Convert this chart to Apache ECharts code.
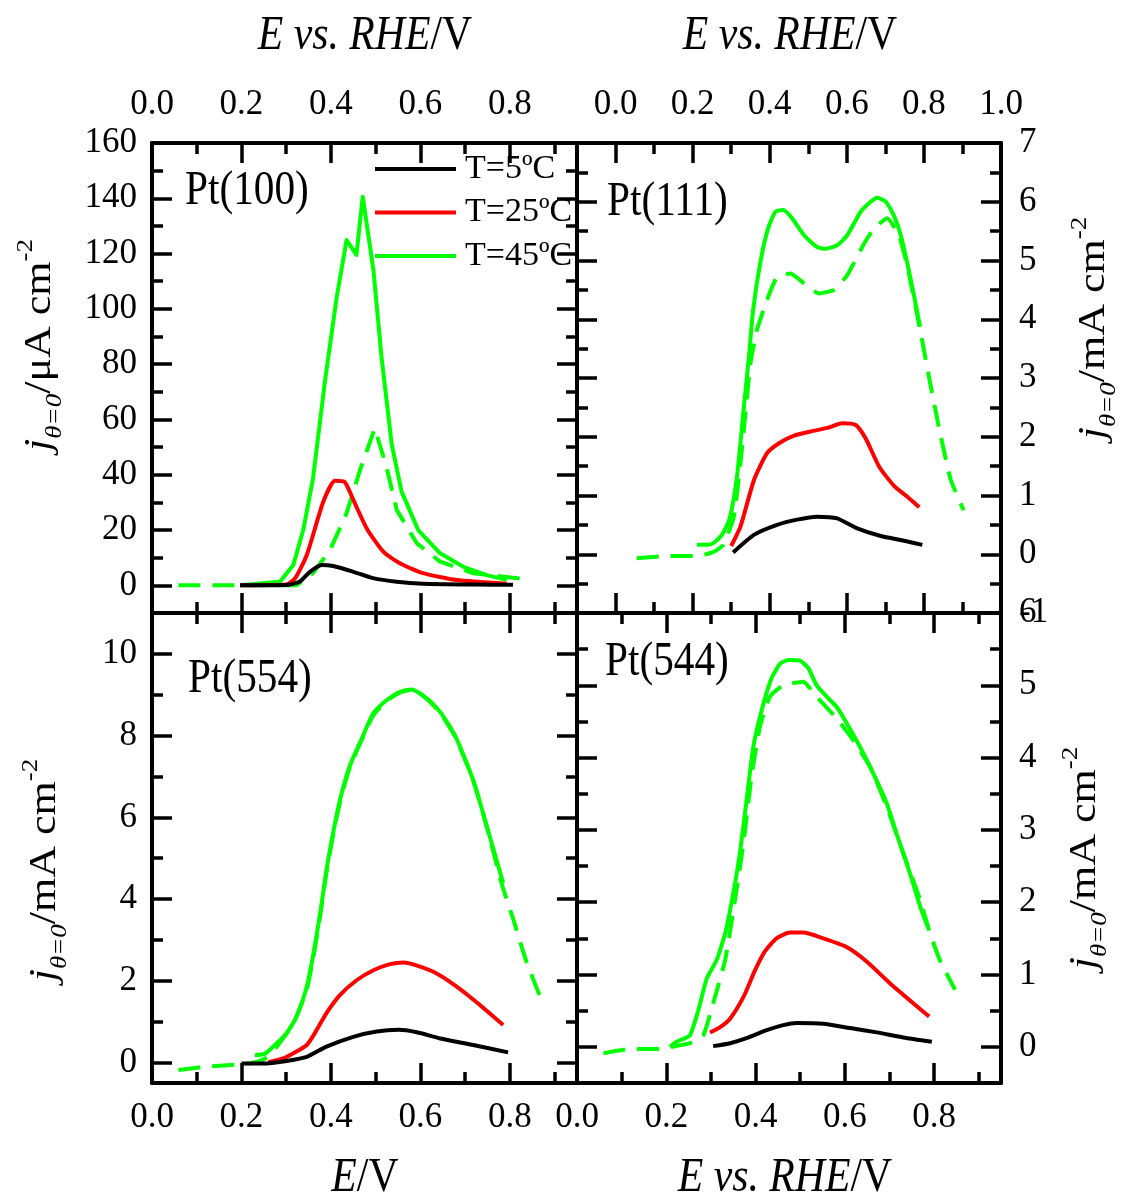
<!DOCTYPE html>
<html>
<head>
<meta charset="utf-8">
<script src="https://cdn.jsdelivr.net/npm/echarts@6/dist/echarts.min.js"></script>
<style>
html,body{margin:0;padding:0;background:#fff;}
#chart{width:1131px;height:1198px;}
</style>
</head>
<body>
<div id="chart"></div>
<script>
// ---------------- DATA (E / V, j) ----------------
// Pt(100)  (j in µA cm^-2)
const pt100_T5  = [[0.197,0],[0.25,0],[0.30,0.1],[0.33,1.3],[0.353,4.9],[0.379,7.4],[0.405,7.0],[0.45,4.9],[0.494,2.6],[0.547,1.3],[0.606,0.6],[0.72,0.3],[0.807,0.2]];
const pt100_T25 = [[0.197,0],[0.25,0.1],[0.30,0.3],[0.32,2.6],[0.346,11],[0.383,30.3],[0.409,37.8],[0.431,37.3],[0.45,30.9],[0.48,20.6],[0.517,12.2],[0.554,8.0],[0.606,4.4],[0.681,1.9],[0.793,0.6]];
const pt100_T45 = [[0.197,0],[0.286,1.3],[0.316,7.4],[0.338,20],[0.36,38.7],[0.387,74.3],[0.413,104.4],[0.435,124.9],[0.457,119.5],[0.471,140.6],[0.495,114],[0.513,82.7],[0.536,50.8],[0.558,33.9],[0.595,20],[0.644,11.6],[0.696,6.7],[0.748,3.7],[0.793,2]];
const pt100_T45b = [[0.059,0],[0.20,0],[0.323,0],[0.36,4.4],[0.398,12.8],[0.435,26.1],[0.465,41.7],[0.498,56.8],[0.524,42.9],[0.547,27.3],[0.592,15.2],[0.644,8.6],[0.718,4.4],[0.838,2.2]];

// Pt(111)  (j in mA cm^-2)
const pt111_T5  = [[0.305,0.03],[0.359,0.33],[0.419,0.50],[0.471,0.59],[0.523,0.64],[0.575,0.61],[0.627,0.44],[0.688,0.31],[0.749,0.23],[0.796,0.16]];
const pt111_T25 = [[0.30,0.14],[0.324,0.47],[0.359,1.26],[0.393,1.72],[0.424,1.89],[0.463,2.02],[0.506,2.09],[0.549,2.15],[0.588,2.23],[0.623,2.20],[0.649,1.97],[0.684,1.49],[0.723,1.16],[0.757,0.98],[0.788,0.80]];
const pt111_T45 = [[0.211,0.16],[0.237,0.16],[0.254,0.19],[0.276,0.33],[0.296,0.61],[0.315,1.32],[0.333,2.51],[0.346,3.36],[0.357,4.16],[0.376,4.98],[0.396,5.55],[0.415,5.83],[0.435,5.86],[0.458,5.72],[0.489,5.43],[0.523,5.23],[0.545,5.20],[0.575,5.26],[0.601,5.43],[0.636,5.83],[0.662,6.0],[0.679,6.07],[0.701,6.0],[0.723,5.75],[0.74,5.43],[0.757,4.95],[0.775,4.38],[0.79,3.87]];
const pt111_T45b = [[0.055,-0.07],[0.133,-0.03],[0.211,-0.03],[0.255,0.04],[0.28,0.16],[0.307,0.64],[0.324,1.55],[0.337,2.4],[0.35,3.25],[0.367,3.82],[0.393,4.33],[0.419,4.72],[0.454,4.78],[0.489,4.61],[0.528,4.44],[0.567,4.5],[0.601,4.75],[0.645,5.29],[0.671,5.55],[0.705,5.72],[0.736,5.41],[0.757,4.9],[0.792,3.76],[0.818,2.85],[0.844,2.0],[0.87,1.26],[0.903,0.75]];

// Pt(554)  (j in mA cm^-2)
const pt554_T5  = [[0.20,-0.02],[0.256,-0.02],[0.301,0.04],[0.346,0.14],[0.39,0.39],[0.45,0.63],[0.502,0.76],[0.551,0.80],[0.592,0.74],[0.644,0.59],[0.718,0.43],[0.796,0.25]];
const pt554_T25 = [[0.26,0.01],[0.293,0.10],[0.323,0.27],[0.346,0.43],[0.364,0.72],[0.39,1.21],[0.42,1.65],[0.458,2.02],[0.495,2.26],[0.532,2.41],[0.562,2.45],[0.582,2.41],[0.629,2.22],[0.681,1.86],[0.733,1.41],[0.785,0.92]];
const pt554_T45 = [[0.23,0.18],[0.253,0.22],[0.271,0.39],[0.301,0.72],[0.323,1.12],[0.346,1.86],[0.361,2.67],[0.376,3.65],[0.39,4.71],[0.409,5.85],[0.424,6.59],[0.443,7.28],[0.469,7.93],[0.495,8.55],[0.525,8.87],[0.554,9.07],[0.58,9.13],[0.614,8.91],[0.644,8.58],[0.677,8.01],[0.718,6.91],[0.755,5.53],[0.785,4.39]];
const pt554_T45b = [[0.059,-0.18],[0.122,-0.10],[0.197,-0.04],[0.223,-0.01],[0.253,0.1],[0.279,0.39],[0.316,0.96],[0.346,1.8],[0.361,2.6],[0.376,3.6],[0.39,4.65],[0.409,5.8],[0.424,6.55],[0.443,7.25],[0.469,7.9],[0.495,8.5],[0.525,8.85],[0.554,9.05],[0.585,9.12],[0.614,8.9],[0.644,8.55],[0.677,7.98],[0.718,6.9],[0.755,5.5],[0.781,4.4],[0.808,3.49],[0.837,2.47],[0.875,1.41]];

// Pt(544)  (j in mA cm^-2)
const pt544_T5  = [[0.305,0.01],[0.343,0.05],[0.38,0.12],[0.425,0.23],[0.462,0.30],[0.492,0.33],[0.552,0.32],[0.612,0.26],[0.672,0.20],[0.731,0.13],[0.795,0.07]];
const pt544_T25 = [[0.298,0.20],[0.32,0.27],[0.343,0.39],[0.373,0.69],[0.399,1.06],[0.421,1.32],[0.447,1.50],[0.477,1.58],[0.507,1.58],[0.552,1.50],[0.604,1.38],[0.649,1.18],[0.701,0.88],[0.754,0.60],[0.789,0.42]];
const pt544_T45 = [[0.208,0.0],[0.223,0.07],[0.253,0.16],[0.272,0.51],[0.291,0.95],[0.313,1.2],[0.332,1.57],[0.35,2.12],[0.365,2.68],[0.38,3.41],[0.395,4.15],[0.414,4.66],[0.436,5.10],[0.455,5.30],[0.473,5.35],[0.5,5.34],[0.518,5.24],[0.537,5.0],[0.56,4.84],[0.582,4.70],[0.604,4.48],[0.634,4.15],[0.664,3.78],[0.694,3.37],[0.716,2.95],[0.746,2.40],[0.769,1.94],[0.787,1.64]];
const pt544_T45b = [[0.059,-0.09],[0.119,-0.03],[0.186,-0.03],[0.212,0.0],[0.253,0.05],[0.283,0.16],[0.305,0.60],[0.332,1.2],[0.354,2.03],[0.373,2.82],[0.391,3.74],[0.41,4.43],[0.432,4.84],[0.462,5.0],[0.507,5.05],[0.537,4.84],[0.582,4.54],[0.619,4.24],[0.657,3.87],[0.694,3.32],[0.731,2.68],[0.769,2.03],[0.791,1.57],[0.813,1.2],[0.847,0.79]];

// ---------------- TICKS ----------------
const X_TICKS      = [0, 0.2, 0.4, 0.6, 0.8];
const X_MINOR      = [0.1, 0.3, 0.5, 0.7, 0.9];
const X_TICKS_111  = [0, 0.2, 0.4, 0.6, 0.8, 1.0];
const X_MINOR_111  = [0.1, 0.3, 0.5, 0.7, 0.9];
const Y_TICKS_100  = [0, 20, 40, 60, 80, 100, 120, 140, 160];
const Y_MINOR_100  = [10, 30, 50, 70, 90, 110, 130, 150];
const Y_TICKS_111  = [-1, 0, 1, 2, 3, 4, 5, 6, 7];
const Y_MINOR_111  = [-0.5, 0.5, 1.5, 2.5, 3.5, 4.5, 5.5, 6.5];
const Y_TICKS_554  = [0, 2, 4, 6, 8, 10];
const Y_MINOR_554  = [1, 3, 5, 7, 9];
const Y_TICKS_544  = [0, 1, 2, 3, 4, 5, 6];
const Y_MINOR_544  = [0.5, 1.5, 2.5, 3.5, 4.5, 5.5];

const LEGEND_NAMES = ['T=5ºC', 'T=25ºC', 'T=45ºC'];
const PANEL_NAMES  = ['Pt(100)', 'Pt(111)', 'Pt(554)', 'Pt(544)'];

// ---------------- BUILD ----------------
const FF = 'Liberation Serif, Times New Roman, serif';
const BLACK = '#000000', RED = '#ff0000', GREEN = '#00ff00';

const grids = [
  {left:152, top:143, width:425, height:470},
  {left:577, top:143, width:424, height:470},
  {left:152, top:613, width:425, height:470},
  {left:577, top:613, width:424, height:470}
];

const xAxes = [], yAxes = [];
const fmt1 = v => v.toFixed(1);
const fmt0 = v => String(Math.round(v));
const MARGIN = {top:21, bottom:17, left:15, right:18};

function addAxes(list, gi, sides, range, major, minor, labelSide, fmt) {
  const first = list.length;
  sides.forEach(side => {
    list.push({
      type:'value', gridIndex:gi, position:side, min:range[0], max:range[1],
      axisLine:{show:true, onZero:false, lineStyle:{color:'#000', width:4}},
      axisTick:{show:true, inside:true, length:20, customValues:major, lineStyle:{color:'#000', width:3.5}},
      axisLabel:{show: side === labelSide, customValues:major, formatter:fmt, margin:MARGIN[side],
                 fontSize:35, fontFamily:FF, color:'#000', showMinLabel:true, showMaxLabel:true, hideOverlap:false},
      splitLine:{show:false}
    });
    list.push({
      type:'value', gridIndex:gi, position:side, min:range[0], max:range[1],
      axisLine:{show:false, onZero:false},
      axisTick:{show:true, inside:true, length:11, customValues:minor, lineStyle:{color:'#000', width:3.5}},
      axisLabel:{show:false},
      splitLine:{show:false}
    });
  });
  return first;
}

const panels = [
  {x:[0,0.95], xt:X_TICKS, xm:X_MINOR, xl:'top', y:[-10,160], yt:Y_TICKS_100, ym:Y_MINOR_100, yl:'left',
   data:[pt100_T45b, pt100_T45, pt100_T25, pt100_T5], smooth:[0, 0, 0.2, 0.2]},
  {x:[-0.1,1.0], xt:X_TICKS_111, xm:X_MINOR_111, xl:'top', y:[-1,7], yt:Y_TICKS_111, ym:Y_MINOR_111, yl:'right',
   data:[pt111_T45b, pt111_T45, pt111_T25, pt111_T5], smooth:[0.15, 0.2, 0.2, 0.2]},
  {x:[0,0.95], xt:X_TICKS, xm:X_MINOR, xl:'bottom', y:[-0.5,11], yt:Y_TICKS_554, ym:Y_MINOR_554, yl:'left',
   data:[pt554_T45b, pt554_T45, pt554_T25, pt554_T5], smooth:[0.2, 0.2, 0.2, 0.2]},
  {x:[0,0.95], xt:X_TICKS, xm:X_MINOR, xl:'bottom', y:[-0.5,6], yt:Y_TICKS_544, ym:Y_MINOR_544, yl:'right',
   data:[pt544_T45b, pt544_T45, pt544_T25, pt544_T5], smooth:[0.15, 0.15, 0.2, 0.2]}
];

const series = [];
panels.forEach((p, gi) => {
  const xi = addAxes(xAxes, gi, ['bottom','top'], p.x, p.xt, p.xm, p.xl, fmt1);
  const yi = addAxes(yAxes, gi, ['left','right'], p.y, p.yt, p.ym, p.yl, fmt0);
  const styles = [
    {name:'T=45ºC (dashed)', color:GREEN, type:[22,12]},
    {name:LEGEND_NAMES[2], color:GREEN, type:'solid'},
    {name:LEGEND_NAMES[1], color:RED, type:'solid'},
    {name:LEGEND_NAMES[0], color:BLACK, type:'solid'}
  ];
  styles.forEach((s, k) => {
    series.push({
      type:'line', name:s.name, xAxisIndex:xi, yAxisIndex:yi, data:p.data[k],
      symbol:'none', showSymbol:false, smooth:p.smooth[k], clip:true,
      lineStyle:{color:s.color, width:4, type:s.type, cap:'butt', join:'round'},
      itemStyle:{color:s.color}, z:3 + k
    });
  });
});

const titleRich = {
  i:{fontSize:48, fontStyle:'italic', fontFamily:FF, fill:'#000', color:'#000'},
  n:{fontSize:48, fontFamily:FF, fill:'#000', color:'#000'}
};
const yRich = {
  j:{fontSize:44, fontStyle:'italic', fontFamily:FF, fill:'#000', lineHeight:60, verticalAlign:'middle'},
  s:{fontSize:27, fontStyle:'italic', fontFamily:FF, fill:'#000', lineHeight:27, verticalAlign:'bottom'},
  n:{fontSize:44, fontFamily:FF, fill:'#000', lineHeight:60, verticalAlign:'middle'},
  p:{fontSize:27, fontFamily:FF, fill:'#000', lineHeight:27, verticalAlign:'top'}
};
function hText(x, y, text, rich) {
  return {type:'text', x:x, y:y, scaleX:0.87, z:50,
    style:{text:text, rich:rich, align:'center', verticalAlign:'middle', fill:'#000', fontFamily:FF, fontSize:48}};
}
function vText(x, y, unit) {
  return {type:'text', x:x, y:y, rotation:Math.PI/2, scaleY:0.87, z:50,
    style:{text:'{j|j}{s|θ=0}{n|/' + unit + ' cm}{p|-2}', rich:yRich, align:'center', verticalAlign:'middle', fill:'#000'}};
}
function panelLabel(x, y, t) {
  return {type:'text', x:x, y:y, scaleX:0.86, z:50,
    style:{text:t, align:'left', verticalAlign:'middle', fill:'#000', fontFamily:FF, fontSize:48}};
}

const graphic = [
  hText(365, 36, '{i|E vs. RHE}{n|/V}', titleRich),
  hText(790, 36, '{i|E vs. RHE}{n|/V}', titleRich),
  hText(365, 1178, '{i|E}{n|/V}', titleRich),
  hText(785, 1178, '{i|E vs. RHE}{n|/V}', titleRich),
  vText(40, 345, 'μA'),
  vText(1094, 328, 'mA'),
  vText(45, 870, 'mA'),
  vText(1085, 858, 'mA'),
  panelLabel(185, 191, PANEL_NAMES[0]),
  panelLabel(607, 202, PANEL_NAMES[1]),
  panelLabel(188, 679, PANEL_NAMES[2]),
  panelLabel(605, 662, PANEL_NAMES[3])
];

const chart = echarts.init(document.getElementById('chart'), null, {renderer:'canvas'});
chart.setOption({
  backgroundColor:'#ffffff',
  animation:false,
  grid:grids,
  xAxis:xAxes,
  yAxis:yAxes,
  legend:{
    data:LEGEND_NAMES, orient:'vertical', left:375, top:151, padding:0,
    icon:'rect', itemWidth:81, itemHeight:4, itemGap:7.5,
    textStyle:{fontSize:34, fontFamily:FF, color:'#000', lineHeight:36, padding:[0,0,0,4]},
    selectedMode:false
  },
  graphic:graphic,
  series:series
});
</script>
</body>
</html>
